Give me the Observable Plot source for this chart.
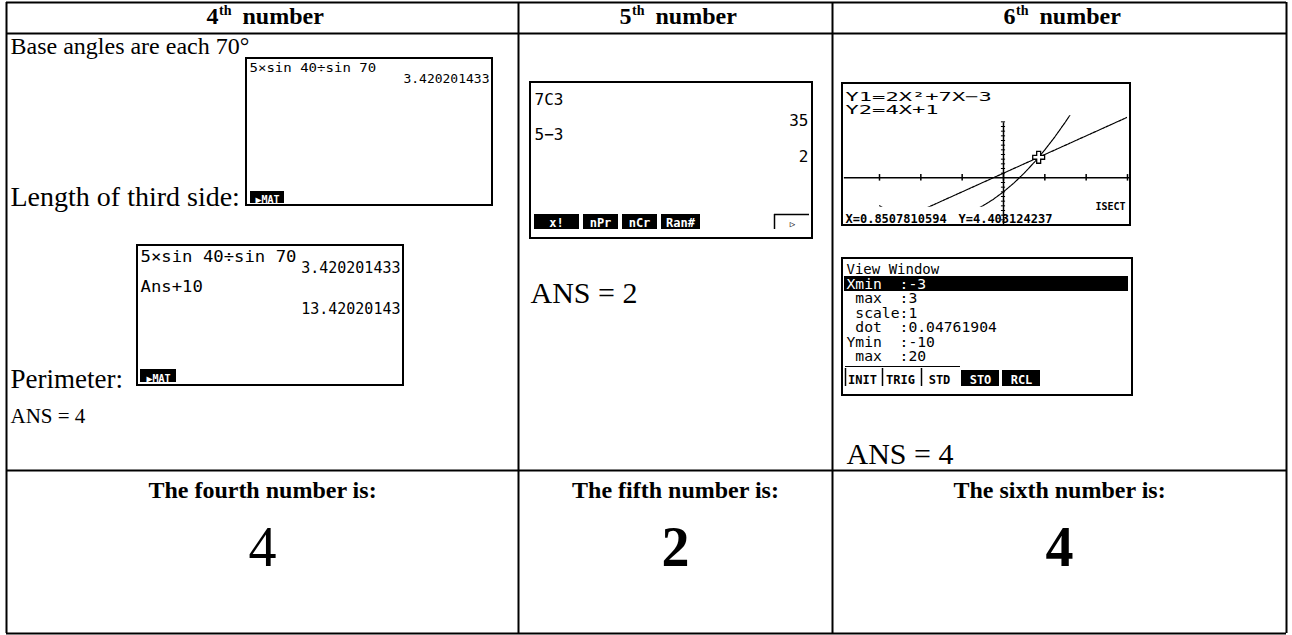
<!DOCTYPE html>
<html><head><meta charset="utf-8">
<script src="https://cdn.jsdelivr.net/npm/d3@7"></script>
<script src="https://cdn.jsdelivr.net/npm/@observablehq/plot@0.6"></script>
<style>
body{margin:0;background:#fff;}
#wrap{position:relative;width:1292px;height:635px;overflow:hidden;}
#wrap svg{position:absolute;}
svg text{white-space:pre;}
</style></head><body><div id="wrap"></div>
<script>
// ---------- content ----------
const ordinals = ["4", "5", "6"];
const ordinalSuffix = ["th", "th", "th"];
const headerWord = ["number", "number", "number"];
const notes4 = ["Base angles are each 70°", "Length of third side:", "Perimeter:"];
const ansTexts = ["ANS = 4", "ANS = 2", "ANS = 4"];
const finalLabels = ["The fourth number is:", "The fifth number is:", "The sixth number is:"];
const finalValues = ["4", "2", "4"];
const finalWeights = ["normal", "bold", "bold"];

const sideLeft = ["5×sin 40÷sin 70"];
const sideRight = ["3.420201433"];
const perimLeft = ["5×sin 40÷sin 70", "Ans+10"];
const perimRight = ["3.420201433", "13.42020143"];
const matTab = ["▶MAT", "▶MAT"];
const ncrLeft = ["7C3", "5−3"];
const ncrRight = ["35", "2"];
const ncrMenu = ["x!", "nPr", "nCr", "Ran#"];
const ncrMore = ["▷"];

const graphEquations = ["Y1=2X²+7X−3", "Y2=4X+1"];
const isectLabel = ["ISECT"];
const isectCoords = ["X=0.8507810594", "Y=4.403124237"];
const viewTitle = ["View Window"];
const viewLabels = ["Xmin  :", " max  :", " scale:", " dot  :", "Ymin  :", " max  :"];
const viewValues = ["-3", "3", "1", "0.04761904", "-10", "20"];
const viewMenu = ["INIT", "TRIG", "STD", "STO", "RCL"];
const viewMenuFilled = [false, false, false, true, true];

// graph data (window Xmin -3 .. 3, Ymin -10 .. 20)
const windowX = [-3, 3];
const windowY = [-10, 20];
const parabolaX = [-3, -2.75, -2.5, -2.25, -2, -1.75, -1.5, -1.25, -1, -0.75, -0.5, -0.25, 0, 0.25, 0.5, 0.75, 1, 1.25, 1.5, 1.75];
const parabolaY = [-6, -7.125, -8, -8.625, -9, -9.125, -9, -8.625, -8, -7.125, -6, -4.625, -3, -1.125, 1, 3.375, 6, 8.875, 12, 15.375];
const lineX = [-3, 3];
const lineY = [-11, 13];
const xTicks = [-3, -2, -1, 0, 1, 2, 3];
const yTicks = [-10,-9,-8,-7,-6,-5,-4,-3,-2,-1,1,2,3,4,5,6,7,8,9,10,11,12];
const intersection = [{x: 0.8507810594, y: 4.403124237}];

// ---------- layout ----------
const W = 1292, H = 635;
const colX = [6, 518, 832, 1286];
const rowY = [2, 33, 470, 633];
const colCenter = i => (colX[i] + colX[i + 1]) / 2;
const serif = "Liberation Serif, Times New Roman, serif";
const mono = "DejaVu Sans Mono, monospace";
const boxes = [
  {x1: 246, y1: 58, x2: 492, y2: 205},
  {x1: 137, y1: 245, x2: 403, y2: 385},
  {x1: 530, y1: 82, x2: 812, y2: 238},
  {x1: 842, y1: 83, x2: 1130, y2: 225},
  {x1: 842, y1: 258, x2: 1132, y2: 395}
];
const G = boxes[3];
const graphInset = 36; // blank strip left of the calculator's plotting area

// ---------- graph (underneath) ----------
const parabola = parabolaX.map((x, i) => ({x, y: parabolaY[i]}));
const line2 = lineX.map((x, i) => ({x, y: lineY[i]}));
const graph = Plot.plot({
  width: G.x2 - G.x1 - 2, height: G.y2 - G.y1 - 2,
  marginTop: 0, marginRight: 2, marginBottom: 0, marginLeft: graphInset,
  x: {domain: windowX, axis: null},
  y: {domain: windowY, axis: null},
  style: {background: "transparent", overflow: "visible"},
  marks: [
    Plot.line(parabola, {x: "x", y: "y", stroke: "black", strokeWidth: 1.2, strokeDasharray: "2.5,1", clip: true}),
    Plot.line(line2, {x: "x", y: "y", stroke: "black", strokeWidth: 1.2, strokeDasharray: "2.5,1", clip: true}),
    Plot.rect([0], {x1: windowX[0], x2: windowX[1], y1: 13.3, y2: windowY[1], fill: "white"}),
    Plot.rect([0], {x1: windowX[0], x2: windowX[1], y1: windowY[0], y2: -6.3, fill: "white"}),
    Plot.ruleY([0], {x1: -3.85, x2: 3.05, stroke: "black", strokeWidth: 1.5}),
    Plot.ruleX(xTicks, {y1: -0.7, y2: 0.7, stroke: "black", strokeWidth: 1.5}),
    Plot.ruleX([0], {y1: windowY[0], y2: 11.8, stroke: "black", strokeWidth: 1.5}),
    Plot.ruleY(yTicks, {x1: -0.05, x2: 0.05, stroke: "black", strokeWidth: 1}),
    Plot.dot(intersection, {x: "x", y: "y", symbol: "cross", r: 5, fill: "white", stroke: "black", strokeWidth: 1.3})
  ]
});
graph.style.left = (G.x1 + 1) + "px";
graph.style.top = (G.y1 + 1) + "px";

// ---------- main table ----------
const tx = (arr, o) => Plot.text(arr, {text: d => d, lineAnchor: "bottom", ...o});
const headerLeft = i => colCenter(i) - 56;

const main = Plot.plot({
  width: W, height: H, margin: 0,
  x: {domain: [0, W], range: [0, W], axis: null},
  y: {domain: [0, H], range: [0, H], axis: null},
  style: {background: "transparent"},
  marks: [
    // table grid
    Plot.ruleX(colX, {y1: rowY[0], y2: rowY[3], stroke: "black", strokeWidth: 2}),
    Plot.ruleY(rowY, {x1: colX[0], x2: colX[3], stroke: "black", strokeWidth: 2}),
    // header
    tx(ordinals, {x: (d, i) => headerLeft(i), y: 23, textAnchor: "start", fontFamily: serif, fontWeight: "bold", fontSize: 24}),
    tx(ordinalSuffix, {x: (d, i) => headerLeft(i) + 12.5, y: 14, textAnchor: "start", fontFamily: serif, fontWeight: "bold", fontSize: 14}),
    tx(headerWord, {x: (d, i) => headerLeft(i) + 36, y: 23, textAnchor: "start", fontFamily: serif, fontWeight: "bold", fontSize: 24}),
    // column 1 notes
    tx(notes4, {x: 10, y: [53, 205, 387], textAnchor: "start", fontFamily: serif, fontSize: [24, 28, 27]}),
    tx(ansTexts, {x: [10, 530, 846], y: [422, 302, 463], textAnchor: "start", fontFamily: serif, fontSize: [21, 30, 30]}),
    // final row
    tx(finalLabels, {x: (d, i) => colCenter(i), y: 497, textAnchor: "middle", fontFamily: serif, fontWeight: "bold", fontSize: 24}),
    tx(finalValues, {x: (d, i) => colCenter(i), y: 565, textAnchor: "middle", fontFamily: serif, fontWeight: "normal", fontSize: 56, filter: (d, i) => finalWeights[i] === "normal"}),
    tx(finalValues, {x: (d, i) => colCenter(i), y: 565, textAnchor: "middle", fontFamily: serif, fontWeight: "bold", fontSize: 56, filter: (d, i) => finalWeights[i] === "bold"}),
    // calculator screens
    Plot.rect(boxes, {x1: "x1", y1: "y1", x2: "x2", y2: "y2", fill: "none", stroke: "black", strokeWidth: 2}),
    // screen A (side length)
    tx(sideLeft, {x: 249, y: 71, textAnchor: "start", fontFamily: mono, fontSize: 13}),
    tx(sideRight, {x: 489, y: 82, textAnchor: "end", fontFamily: mono, fontSize: 13}),
    // screen B (perimeter)
    tx(perimLeft, {x: 140, y: [261, 291], textAnchor: "start", fontFamily: mono, fontSize: 16}),
    tx(perimRight, {x: 400, y: [272, 313], textAnchor: "end", fontFamily: mono, fontSize: 15}),
    // MAT tabs
    Plot.rect(matTab, {x1: [250, 140], x2: [284, 176], y1: [191, 369], y2: [203, 382], fill: "black"}),
    tx(matTab, {x: [267, 158], y: [202, 381], textAnchor: "middle", fontFamily: mono, fontWeight: "bold", fontSize: 10, fill: "white"}),
    // screen C (nCr)
    tx(ncrLeft, {x: 534, y: [104, 139], textAnchor: "start", fontFamily: mono, fontSize: 16}),
    tx(ncrRight, {x: 808, y: [125, 161], textAnchor: "end", fontFamily: mono, fontSize: 16}),
    Plot.rect(ncrMenu, {x1: [534, 583, 622, 661], x2: [579, 618, 657, 700], y1: 214, y2: 229, fill: "black"}),
    tx(ncrMenu, {x: [556, 600, 639, 680], y: 226, textAnchor: "middle", fontFamily: mono, fontWeight: "bold", fontSize: 12, fill: "white"}),
    Plot.ruleY(ncrMore, {y: 214, x1: 774, x2: 809, stroke: "black", strokeWidth: 1.5}),
    Plot.ruleX(ncrMore, {x: 774, y1: 214, y2: 229, stroke: "black", strokeWidth: 1.5}),
    tx(ncrMore, {x: 792, y: 226, textAnchor: "middle", fontFamily: mono, fontSize: 9}),
    // screen D (graph) texts
    tx(graphEquations, {x: 845, y: [100, 113], textAnchor: "start", fontFamily: mono, fontSize: 13}),
    tx(isectLabel, {x: 1125, y: 209, textAnchor: "end", fontFamily: mono, fontWeight: "bold", fontSize: 10}),
    tx(isectCoords, {x: [845, 958], y: 222, textAnchor: "start", fontFamily: mono, fontWeight: "bold", fontSize: 12}),
    // screen E (view window)
    tx(viewTitle, {x: 846, y: 273, textAnchor: "start", fontFamily: mono, fontSize: 14}),
    Plot.rect([0], {x1: 844, x2: 1128, y1: 276, y2: 291, fill: "black"}),
    tx(viewLabels.map((l, i) => l + viewValues[i]), {x: 846, y: [288, 302.5, 317, 331.5, 346, 360.5], textAnchor: "start", fontFamily: mono, fontSize: 14, fill: (d, i) => i === 0 ? "white" : "black"}),
    Plot.ruleY([0], {y: 366, x1: 845, x2: 960, stroke: "black", strokeWidth: 1.2}),
    Plot.rect(viewMenu, {x1: [845, 882, 921, 961, 1002], x2: [880, 919, 958, 999, 1040], y1: 370, y2: 386, fill: (d, i) => viewMenuFilled[i] ? "black" : "none"}),
    Plot.ruleX(viewMenu, {x: [845, 882, 921, 961, 1002], y1: 368, y2: 386, stroke: (d, i) => viewMenuFilled[i] ? "none" : "black", strokeWidth: 1.5}),
    tx(viewMenu, {x: [862, 900, 939, 980, 1021], y: 383, textAnchor: "middle", fontFamily: mono, fontWeight: "bold", fontSize: 12, fill: (d, i) => viewMenuFilled[i] ? "white" : "black"})
  ]
});
main.style.left = "0px";
main.style.top = "0px";

const wrap = document.getElementById("wrap");
wrap.appendChild(graph);
wrap.appendChild(main);

// calculator glyphs are wider than the monospace font: stretch horizontally
const stretch = new Map([
  ...graphEquations.map(s => [s, 1.7]),
  ...perimLeft.map(s => [s, 1.08]),
  ...viewLabels.map((l, i) => [l + viewValues[i], 1.05])
]);
d3.select(main).selectAll("text").each(function () {
  const s = stretch.get(this.textContent);
  if (s) {
    const t = this.getAttribute("transform") || "";
    this.setAttribute("transform", t + ` scale(${s},1)`);
  }
});
</script>
</body></html>
